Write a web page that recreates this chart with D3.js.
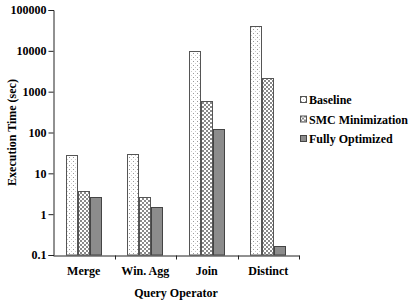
<!DOCTYPE html>
<html>
<head>
<meta charset="utf-8">
<script src="https://cdn.jsdelivr.net/npm/d3@7"></script>
<style>
  body { margin: 0; background: #fff; }
  text { font-family: "Liberation Serif", "Times New Roman", serif; font-weight: bold; fill: #000; }
</style>
</head>
<body>
<script>
var categories = ["Merge", "Win. Agg", "Join", "Distinct"]
var seriesNames = ["Baseline", "SMC Minimization", "Fully Optimized"]
var baseline = [28, 30, 10000, 40000]
var smcMin = [3.6, 2.7, 600, 2200]
var fullyOpt = [2.7, 1.5, 120, 0.17]
var yTicks = [0.1, 1, 10, 100, 1000, 10000, 100000]

var w = 415, h = 306
var plotLeft = 53, plotRight = 299, plotTop = 10, plotBottom = 255

var svg = d3.select("body").append("svg")
    .attr("width", w).attr("height", h)

// fill patterns
var defs = svg.append("defs")
var dots = defs.append("pattern").attr("id", "dots")
    .attr("patternUnits", "userSpaceOnUse").attr("width", 4).attr("height", 4)
dots.append("rect").attr("width", 4).attr("height", 4).attr("fill", "#fff")
dots.append("rect").attr("x", 1).attr("y", 1).attr("width", 1).attr("height", 1).attr("fill", "#999")
dots.append("rect").attr("x", 3).attr("y", 3).attr("width", 1).attr("height", 1).attr("fill", "#ccc")

var checks = defs.append("pattern").attr("id", "checks")
    .attr("patternUnits", "userSpaceOnUse").attr("width", 4).attr("height", 4)
checks.append("rect").attr("width", 4).attr("height", 4).attr("fill", "#fff")
checks.append("rect").attr("width", 2).attr("height", 2).attr("fill", "#8a8a8a")
checks.append("rect").attr("x", 2).attr("y", 2).attr("width", 2).attr("height", 2).attr("fill", "#8a8a8a")

var fills = ["url(#dots)", "url(#checks)", "#8c8c8c"]
var strokes = ["#555", "#555", "#444"]

var x = d3.scaleBand().domain(categories).range([plotLeft, plotRight])
var xs = d3.scaleBand().domain(seriesNames).range([0, 36])
var y = d3.scaleLog().domain([0.1, 100000]).range([plotBottom, plotTop])

var data = [baseline, smcMin, fullyOpt]

// bars
seriesNames.forEach(function(s, i) {
  svg.append("g").selectAll("rect")
    .data(data[i])
    .enter().append("rect")
      .attr("x", function(d, j) { return Math.round(x(categories[j]) + x.bandwidth() / 2 - 18 + xs(s)) + 0.5 })
      .attr("y", function(d) { return Math.round(y(d)) + 0.5 })
      .attr("width", xs.bandwidth() - 1)
      .attr("height", function(d) { return plotBottom - Math.round(y(d)) - 0.5 })
      .attr("fill", fills[i])
      .attr("stroke", strokes[i])
      .attr("stroke-width", 1)
})

// y axis
var yAxis = svg.append("g")
    .attr("transform", "translate(" + (plotLeft + 0.5) + ",0)")
    .call(d3.axisLeft(y).tickValues(yTicks).tickFormat(function(d) { return String(d) }).tickSizeOuter(0).tickSize(5))
yAxis.select(".domain").attr("stroke", "#222")
yAxis.selectAll(".tick line").attr("stroke", "#222")
yAxis.selectAll("text").attr("font-size", 12).attr("font-family", null).attr("x", -7)

// x axis
var xAxis = svg.append("g")
    .attr("transform", "translate(0," + (plotBottom + 0.5) + ")")
    .call(d3.axisBottom(x).tickSize(0).tickSizeOuter(0))
xAxis.select(".domain").attr("stroke", "#222")
xAxis.selectAll(".tick line").remove()
xAxis.selectAll("text").attr("font-size", 12).attr("font-family", null).attr("y", 11)
// boundary ticks between categories
xAxis.selectAll("line.sep")
    .data(categories)
  .enter().append("line")
    .attr("x1", function(d) { return Math.round(x(d) + x.bandwidth()) + 0.5 })
    .attr("x2", function(d) { return Math.round(x(d) + x.bandwidth()) + 0.5 })
    .attr("y1", 0).attr("y2", 4)
    .attr("stroke", "#222")

// axis titles
svg.append("text")
    .attr("transform", "translate(16," + ((plotTop + plotBottom) / 2) + ") rotate(-90)")
    .attr("text-anchor", "middle")
    .attr("font-size", 12)
    .text("Execution Time (sec)")

svg.append("text")
    .attr("x", (plotLeft + plotRight) / 2).attr("y", 297)
    .attr("text-anchor", "middle")
    .attr("font-size", 12)
    .text("Query Operator")

// legend
var legend = svg.append("g").attr("transform", "translate(300,96)")
seriesNames.forEach(function(s, i) {
  var g = legend.append("g").attr("transform", "translate(0," + (i * 19.5) + ")")
  g.append("rect").attr("x", 0.5).attr("y", 0.5).attr("width", 6).attr("height", 6)
    .attr("fill", fills[i]).attr("stroke", strokes[i])
  g.append("text").attr("x", 9).attr("y", 8).attr("font-size", 12).text(s)
})
</script>
</body>
</html>
